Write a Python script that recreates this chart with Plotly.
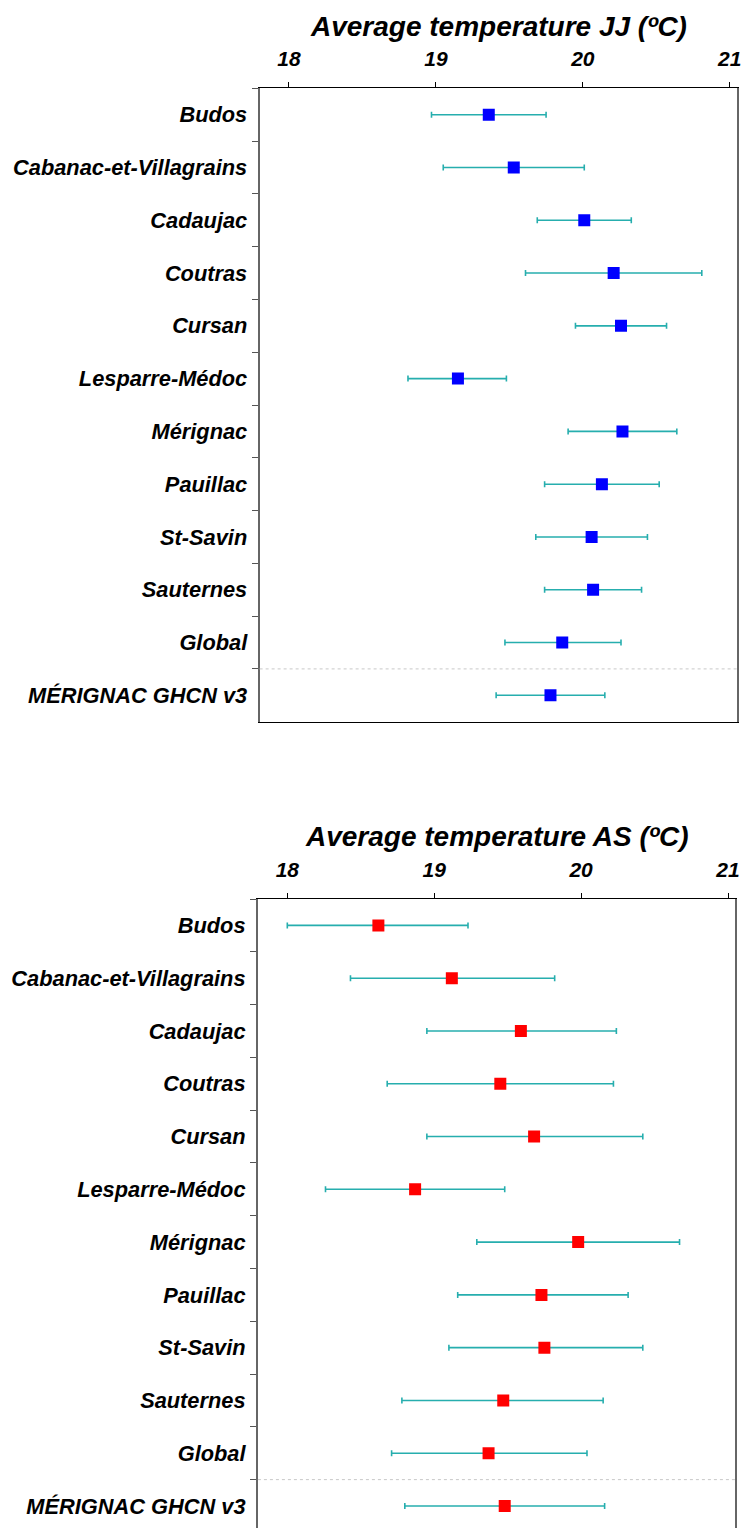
import plotly.graph_objects as go

sites = ["Budos", "Cabanac-et-Villagrains", "Cadaujac", "Coutras", "Cursan",
         "Lesparre-Médoc", "Mérignac", "Pauillac", "St-Savin", "Sauternes",
         "Global", "MÉRIGNAC GHCN v3"]

# June-July average temperature (ºC): mean and interval bounds
jj_mean = [19.36, 19.53, 20.01, 20.21, 20.26, 19.15, 20.27, 20.13, 20.06, 20.07, 19.86, 19.78]
jj_low  = [18.97, 19.05, 19.69, 19.61, 19.95, 18.81, 19.90, 19.74, 19.68, 19.74, 19.47, 19.41]
jj_high = [19.75, 20.01, 20.33, 20.81, 20.57, 19.48, 20.64, 20.52, 20.44, 20.40, 20.26, 20.15]

# August-September average temperature (ºC)
as_mean = [18.62, 19.12, 19.59, 19.45, 19.68, 18.87, 19.98, 19.73, 19.75, 19.47, 19.37, 19.48]
as_low  = [18.00, 18.43, 18.95, 18.68, 18.95, 18.26, 19.29, 19.16, 19.10, 18.78, 18.71, 18.80]
as_high = [19.23, 19.82, 20.24, 20.22, 20.42, 19.48, 20.67, 20.32, 20.42, 20.15, 20.04, 20.16]

x_ticks = [18, 19, 20, 21]
titles = ["Average temperature JJ (ºC)", "Average temperature AS (ºC)"]

W, H = 751, 1528
FONT = "Liberation Sans, Arial, sans-serif"
ERR_COLOR = "rgba(0,160,160,0.85)"

fig = go.Figure()

panels = [
    dict(mean=jj_mean, low=jj_low, high=jj_high, color="#0000FF",
         xl=261, xr=741, yt=88.3, yb=721.7, xa="x", ya="y"),
    dict(mean=as_mean, low=as_low, high=as_high, color="#FF0000",
         xl=259.3, xr=739.3, yt=899, yb=1528, xa="x2", ya="y2"),
]

row_px = (721.7 - 88.3) / 12.0

for i, p in enumerate(panels):
    plus = [h - m for h, m in zip(p["high"], p["mean"])]
    minus = [m - l for m, l in zip(p["mean"], p["low"])]
    fig.add_trace(go.Scatter(
        x=p["mean"], y=sites, mode="markers",
        marker=dict(symbol="square", size=12, color=p["color"], line=dict(width=0)),
        error_x=dict(type="data", array=plus, arrayminus=minus, symmetric=False,
                     color=ERR_COLOR, thickness=1.6, width=3),
        xaxis=p["xa"], yaxis=p["ya"], showlegend=False, hoverinfo="x+y",
    ))
    sfx = "" if i == 0 else "2"
    x_dom = [p["xl"] / W, p["xr"] / W]
    y_dom = [1 - p["yb"] / H, 1 - p["yt"] / H]
    bottom_val = -0.5 + (p["yb"] - p["yt"]) / row_px
    fig.update_layout(**{
        "xaxis" + sfx: dict(
            domain=x_dom, range=[17.8, 21.05], side="top",
            anchor="y" + sfx,
            tickvals=x_ticks, ticktext=[str(t) for t in x_ticks],
            ticks="outside", ticklen=5, tickwidth=1, tickcolor="#000",
            showline=True, linecolor="#000", linewidth=1,
            mirror=(i == 0), showgrid=False, zeroline=False,
            tickfont=dict(family=FONT, size=21, color="#000", weight="bold", style="italic"),
            ticklabelstandoff=8,
        ),
        "yaxis" + sfx: dict(
            domain=y_dom, type="category", categoryorder="array", categoryarray=sites,
            range=[bottom_val, -0.5], anchor="x" + sfx,
            tickson="boundaries", ticks="outside", ticklen=6, tickwidth=1, tickcolor="#555",
            showline=True, linecolor="#666", linewidth=2, mirror=True,
            showgrid=False, zeroline=False,
            tickfont=dict(family=FONT, size=21.8, color="#000", weight="bold", style="italic"),
            ticklabelstandoff=6,
        ),
    })
    fig.add_shape(type="line", xref="x%s domain" % sfx, yref="y" + sfx,
                  x0=0, x1=1, y0=10.5, y1=10.5,
                  line=dict(color="#c8c8c8", width=1, dash="dot"))
    title_y = 26 if i == 0 else 836
    fig.add_annotation(text=titles[i], xref="paper", yref="paper",
                       x=(p["xl"] + p["xr"]) / 2 / W, y=1 - title_y / H,
                       xanchor="center", yanchor="middle", showarrow=False,
                       font=dict(family=FONT, size=28, color="#000", weight="bold", style="italic"))

fig.update_layout(width=W, height=H, margin=dict(l=0, r=0, t=0, b=0),
                  paper_bgcolor="white", plot_bgcolor="white")

fig.write_html("out.html", config={"displayModeBar": False},
               post_script="document.body.style.margin='0';document.body.style.overflow='hidden';")
